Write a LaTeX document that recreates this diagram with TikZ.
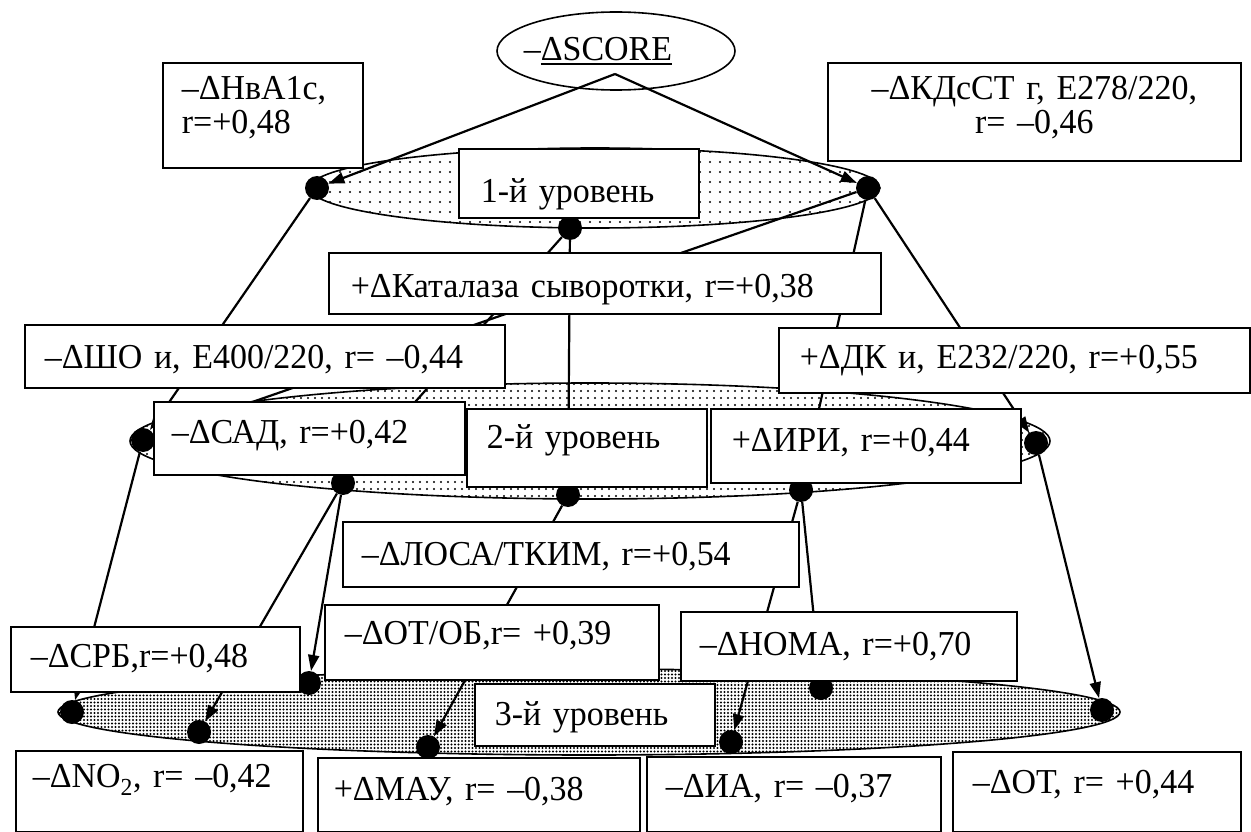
\documentclass[tikz,border=0pt]{standalone}
\usepackage{fontspec}
\setmainfont{Liberation Serif}[FakeStretch=0.97]
\usetikzlibrary{shapes.geometric, arrows.meta, patterns.meta}
\newcommand\lftbox[1]{\makebox[\linewidth][l]{#1}}
\newcommand\thickul[1]{\setbox0\hbox{#1}\rlap{\rule[-5pt]{\wd0}{2pt}}\box0}
\begin{document}
\begin{tikzpicture}[x=1pt, y=-1pt,
  font=\fontsize{35}{34}\selectfont,
  box/.style={draw, line width=1.6pt, fill=white, rectangle, inner ysep=0pt, anchor=north west, align=left},
  dotn/.style={circle, fill=black, inner sep=0pt, minimum size=24pt},
  conn/.style={line width=2.2pt},
  arr/.style={conn, -{Triangle[length=16pt,width=11pt]}},
  lev/.style={ellipse, draw, line width=1.6pt, inner sep=0pt},
]
\useasboundingbox (0,0) rectangle (1251,832);

% level ellipses
\node[lev, pattern={Dots[distance=10pt,radius=1.1pt]}, minimum width=570pt, minimum height=80pt] (lev1) at (595,188) {};
\node[lev, pattern={Dots[distance=7pt,radius=1.1pt]}, minimum width=920pt, minimum height=116pt] (lev2) at (590,441) {};
\node[lev, pattern={Dots[distance=3.5pt,radius=1.15pt]}, minimum width=1062pt, minimum height=86pt] (lev3) at (589,712) {};

% top ellipse
\node[ellipse, draw, line width=1.6pt, fill=white, inner sep=0pt, minimum width=238pt, minimum height=78pt] (score) at (616,51) {\makebox[0pt]{–\thickul{ΔSCORE}\hspace*{36pt}}};
\coordinate (sc) at (615,74);

% dots
\node[dotn] (d1l) at (317,188) {};
\node[dotn] (d1c) at (570,228) {};
\node[dotn] (d1r) at (868,188) {};
\node[dotn] (d2l) at (143,440) {};
\node[dotn] (d2s) at (343,483) {};
\node[dotn] (d2c) at (568,495) {};
\node[dotn] (d2i) at (801,490) {};
\node[dotn] (d2r) at (1036,443) {};
\node[dotn] (d3l) at (72,712) {};
\node[dotn] (d3n) at (199,732) {};
\node[dotn] (d3s) at (309,683) {};
\node[dotn] (d3m) at (428,747) {};
\node[dotn] (d3a) at (731,742) {};
\node[dotn] (d3h) at (821,688) {};
\node[dotn] (d3r) at (1102,710) {};

% connectors
\draw[arr] (sc) -- (d1l);
\draw[arr] (sc) -- (d1r);
\draw[arr] (d1l) -- (d2l);
\draw[arr] (d1c) -- (d2s);
\draw[arr] (d1c) -- (d2c);
\draw[arr] (d1r) -- (d2l);
\draw[arr] (d1r) -- (d2i);
\draw[arr] (d1r) -- (d2r);
\draw[arr] (d2l) -- (d3l);
\draw[arr] (d2s) -- (d3n);
\draw[arr] (d2s) -- (d3s);
\draw[arr] (d2c) -- (d3m);
\draw[arr] (d2i) -- (d3a);
\draw[arr] (d2i) -- (d3h);
\draw[arr] (d2r) -- (d3r);

% boxes
\node[box, inner xsep=19pt, text width=162pt, text height=37pt, text depth=68pt] (hb) at (162,62) {–ΔHвA1c,\\r=+0,48};
\node[box, align=center, inner xsep=10pt, text width=393pt, text height=37pt, text depth=61pt] (kd) at (827,62) {–ΔКДсСТ г, Е278/220,\\r= –0,46};
\node[box, inner xsep=22pt, text width=196pt, text height=54pt, text depth=15pt] (l1) at (458,148) {\lftbox{1-й уровень}};
\node[box, inner xsep=22pt, text width=508pt, text height=45pt, text depth=16pt] (kat) at (328,252) {\lftbox{+ΔКаталаза сыворотки, r=+0,38}};
\node[box, inner xsep=20pt, text width=440pt, text height=44pt, text depth=19pt] (sho) at (24,324) {\lftbox{–ΔШО и, Е400/220, r= –0,44}};
\node[box, inner xsep=21pt, text width=429pt, text height=41pt, text depth=24pt] (dk) at (778,327) {\lftbox{+ΔДК и, Е232/220, r=+0,55}};
\node[box, inner xsep=18pt, text width=275pt, text height=42pt, text depth=31pt] (sad) at (153,401) {\lftbox{–ΔСАД, r=+0,42}};
\node[box, inner xsep=20pt, text width=200pt, text height=40pt, text depth=38pt] (l2) at (466,408) {\lftbox{2-й уровень}};
\node[box, inner xsep=21pt, text width=268pt, text height=43pt, text depth=31pt] (iri) at (710,408) {\lftbox{+ΔИРИ, r=+0,44}};
\node[box, inner xsep=19pt, text width=418pt, text height=44pt, text depth=21pt] (losa) at (342,521) {\lftbox{–ΔЛОСА/ТКИМ, r=+0,54}};
\node[box, inner xsep=20pt, text width=249pt, text height=41pt, text depth=24pt] (srb) at (10,626) {\lftbox{–ΔСРБ,r=+0,48}};
\node[box, inner xsep=20pt, text width=294pt, text height=40pt, text depth=35pt] (otob) at (324,604) {\lftbox{–ΔОТ/ОБ,r= +0,39}};
\node[box, inner xsep=19pt, text width=298pt, text height=44pt, text depth=25pt] (noma) at (680,611) {\lftbox{–ΔНОМА, r=+0,70}};
\node[box, inner xsep=20pt, text width=200pt, text height=42pt, text depth=20pt] (l3) at (474,683) {\lftbox{3-й уровень}};
\node[box, inner xsep=17pt, text width=253pt, text height=37pt, text depth=44pt] (no2) at (15,750) {\lftbox{–ΔNO\textsubscript{2}, r= –0,42}};
\node[box, inner xsep=16pt, text width=290pt, text height=43pt, text depth=31pt] (mau) at (317,757) {\lftbox{+ΔМАУ, r= –0,38}};
\node[box, inner xsep=19pt, text width=256pt, text height=41pt, text depth=34pt] (ia) at (646,756) {\lftbox{–ΔИА, r= –0,37}};
\node[box, inner xsep=20pt, text width=248pt, text height=42pt, text depth=38pt] (ot) at (952,751) {\lftbox{–ΔОТ, r= +0,44}};
\end{tikzpicture}
\end{document}
